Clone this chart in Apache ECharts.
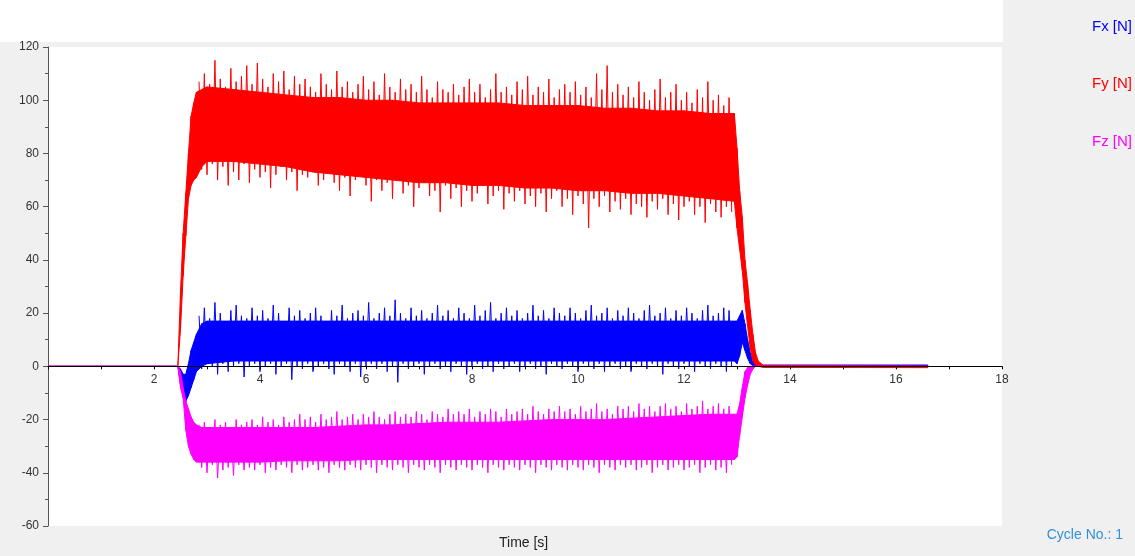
<!DOCTYPE html>
<html><head><meta charset="utf-8">
<script src="https://cdn.jsdelivr.net/npm/echarts/dist/echarts.min.js"></script>
<style>html,body{margin:0;padding:0;background:#f0f0f0;overflow:hidden;} #c{width:1135px;height:556px;}</style>
</head><body><div id="c"></div>
<script>
// ---- data ----
const seriesNames = ['Fx [N]', 'Fy [N]', 'Fz [N]'];
const xTicks = [2, 4, 6, 8, 10, 12, 14, 16, 18];
// envelope sample times (s)
const coreT = [0, 2.45, 2.5, 2.55, 2.6, 2.65, 2.7, 2.75, 2.8, 2.9, 3.0, 3.5, 4.0, 4.5, 5.0, 5.5, 6.0, 6.5, 7.0, 7.5, 8.0, 8.5, 9.0, 9.5, 10.0, 10.5, 11.0, 11.5, 12.0, 12.5, 12.95, 13.0, 13.05, 13.1, 13.15, 13.2, 13.25, 13.3, 13.35, 13.4, 13.5, 16.6];
// dense-band upper / lower envelopes
const fxTop = [0, 0, -1, -3, -3, 1, 6, 9, 12, 16, 17, 17, 17, 17, 17, 17, 17, 17, 17, 17, 17, 17, 17, 17, 17, 17, 17, 17, 17, 17, 17, 17, 19, 21, 16, 10, 5, 2, 1, 0.5, 0.5, 0.5];
const fxBot = [0, 0, -7, -10, -13, -11, -8, -5, -2, 0, 1, 2, 2, 2, 2, 2, 2, 2, 2, 2, 2, 2, 2, 2, 2, 2, 2, 2, 2, 2, 2, 1, 4, 9, 6, 3, 1, 0.3, 0, 0, 0, 0];
const fyTop = [0, 0, 28, 50, 65, 80, 94, 99, 103, 104, 105, 104, 103, 102, 101, 101, 100, 100, 99, 99, 99, 99, 98, 98, 98, 97, 97, 96, 96, 95, 95, 82, 66, 56, 40, 31, 21, 12, 5, 2, 0.3, 0];
const fyBot = [0, 0, 14, 34, 49, 63, 68, 70, 71, 75, 77, 77, 76, 75, 73, 72, 71, 70, 69, 69, 68, 68, 67, 67, 66, 66, 65, 65, 64, 63, 62, 52, 44, 36, 24, 15, 7, 2, 0.5, 0, -0.4, -0.5];
const fzTop = [0, 0, -2, -8, -13, -16, -19, -21, -22, -23, -23, -23, -23, -23, -23, -22.5, -22, -22, -21.5, -21, -21, -21, -20.5, -20, -20, -20, -19.5, -19, -18.5, -18, -18, -18, -14, -8, -2, -0.5, 0, 0, 0, 0, 0, 0];
const fzBot = [0, 0, -8, -12, -24, -30, -33, -35, -36, -36, -36, -36, -36, -35.5, -35.5, -35.5, -35, -35, -35, -35, -35, -35, -35, -35, -35, -35, -35, -35, -35, -35, -35, -34, -26, -19, -12, -7, -3, -1, 0, 0, 0, 0];
// alternating peak / trough samples of the noisy steady part, every 0.05 s from 2.85 s
const zigStart = 2.85, zigStep = 0.05;
const fxZig = [
19,-1,22,1,18,0,24,-3,20,1,17,-2,21,0,23,1,19,-4,18,0,
22,1,19,-2,21,0,18,1,23,-3,20,0,17,1,22,-5,19,0,21,-1,
18,1,20,-2,22,0,19,1,17,-1,21,-3,19,1,23,0,18,-2,20,1,
21,-4,19,0,24,1,18,-1,20,1,22,-2,19,0,25,-6,20,1,18,-1,
22,0,19,1,21,-3,18,0,20,1,23,-1,19,0,21,-2,18,1,22,0,
20,-3,18,0,23,1,19,-1,21,0,24,-2,18,1,20,-1,22,0,19,1,
21,-2,18,0,20,1,23,-1,19,0,21,-3,18,1,22,0,20,-1,19,1,
22,0,20,-2,18,1,21,0,23,-1,19,1,20,-2,22,0,18,1,21,-1,
19,0,22,-2,20,1,18,0,21,-1,23,1,19,0,20,-3,22,1,18,0,
21,-1,19,1,22,0,20,-2,18,1,21,0,23,-1,19,1,20,0,22,-2,
21,0];
const fyZig = [
107,74,110,72,106,76,115,70,108,75,105,68,112,73,107,70,109,76,113,69,
106,74,114,71,108,73,105,67,110,72,107,75,111,70,104,73,109,66,106,72,
108,71,105,74,103,68,110,70,106,73,104,69,111,66,105,71,107,64,103,70,
106,72,109,68,104,62,107,70,102,66,110,69,105,63,103,70,108,65,104,68,
106,60,103,67,109,69,104,64,101,66,107,58,104,68,103,63,106,67,102,60,
105,66,108,62,103,65,106,68,101,61,104,64,110,66,103,59,105,65,102,62,
107,66,104,61,109,64,102,60,105,65,103,58,108,63,101,66,104,60,106,63,
103,57,107,64,102,61,105,52,101,63,110,60,104,64,113,58,103,62,106,59,
102,63,105,57,101,61,107,60,103,56,100,62,104,59,108,63,101,57,103,61,
106,55,100,60,103,62,99,57,104,60,101,54,107,61,100,58,102,56,98,60,
101,58];
const fzZig = [
-22,-38,-21,-40,-23,-37,-20,-42,-22,-39,-21,-38,-23,-41,-20,-37,-22,-39,-21,-38,
-20,-39,-22,-37,-19,-40,-21,-38,-20,-39,-22,-37,-19,-38,-21,-40,-20,-37,-18,-39,
-20,-38,-19,-37,-21,-39,-18,-38,-20,-40,-19,-37,-17,-38,-20,-39,-19,-37,-18,-38,
-20,-39,-18,-37,-19,-38,-17,-40,-19,-37,-20,-38,-18,-39,-17,-37,-19,-38,-18,-40,
-19,-37,-17,-38,-18,-39,-20,-37,-17,-38,-18,-40,-19,-37,-16,-38,-18,-39,-17,-37,
-18,-38,-16,-39,-19,-37,-17,-38,-18,-40,-16,-37,-17,-38,-19,-39,-16,-37,-18,-38,
-17,-39,-16,-37,-18,-38,-15,-40,-17,-37,-18,-38,-16,-39,-17,-37,-15,-38,-17,-39,
-16,-37,-18,-38,-15,-39,-17,-37,-16,-38,-14,-40,-17,-37,-16,-38,-18,-39,-15,-37,
-16,-38,-15,-37,-17,-39,-14,-38,-16,-37,-15,-40,-17,-38,-15,-37,-14,-39,-16,-38,
-15,-37,-17,-39,-14,-38,-16,-37,-15,-40,-13,-38,-16,-37,-15,-39,-14,-38,-16,-40,
-15,-37];

const colors = ['#0000ff', '#ff0000', '#ff00ff'];

function buildSeries(key, color, top, bot, zig) {
  const r = v => Math.round(v * 100) / 100;
  const segs = [];
  for (let i = 0; i < coreT.length - 1; i++) {
    segs.push([coreT[i], bot[i], top[i], coreT[i + 1], bot[i + 1], top[i + 1]]);
  }
  return [
    { name: key + '_band', type: 'custom', silent: true, clip: true,
      encode: { x: [0, 3], y: [1, 2, 4, 5] },
      data: segs,
      renderItem: function (params, api) {
        const p = [
          api.coord([api.value(0), api.value(2)]),
          api.coord([api.value(3), api.value(5)]),
          api.coord([api.value(3), api.value(4)]),
          api.coord([api.value(0), api.value(1)])
        ];
        return { type: 'polygon', shape: { points: p },
          style: { fill: color, stroke: color, lineWidth: 1 } };
      } },
    { name: key + '_noise', type: 'line', symbol: 'none', silent: true,
      data: zig.map((v, i) => [r(zigStart + i * zigStep), v]), lineStyle: { color: color, width: 1 } }
  ];
}

const chart = echarts.init(document.getElementById('c'), null, { renderer: 'canvas' });
const font = '"Liberation Sans", Arial, sans-serif';
const gridTop = 47, gridBottom = 30, plotH = 556 - gridTop - gridBottom;
const zeroOffset = -(plotH * 60 / 180);
chart.setOption({
  animation: false,
  backgroundColor: '#f0f0f0',
  grid: { left: 48, right: 133, top: gridTop, bottom: gridBottom, show: true, backgroundColor: '#ffffff', borderWidth: 0 },
  xAxis: {
    type: 'value', min: 0, max: 18, interval: 1, z: 5, position: 'bottom', offset: zeroOffset,
    axisLine: { onZero: false, lineStyle: { color: '#000', width: 1 } },
    axisTick: { show: true, length: 3, lineStyle: { color: '#000' } },
    splitLine: { show: false },
    axisLabel: { margin: 7, color: '#333', fontSize: 12, fontFamily: font,
      formatter: v => (xTicks.indexOf(v) >= 0 ? String(v) : '') }
  },
  yAxis: {
    type: 'value', min: -60, max: 120, interval: 20,
    axisLine: { show: true, onZero: false, lineStyle: { color: '#555', width: 1 } },
    axisTick: { show: true, length: 5, lineStyle: { color: '#555' } },
    minorTick: { show: true, splitNumber: 2, length: 3, lineStyle: { color: '#555' } },
    splitLine: { show: false },
    axisLabel: { margin: 9, color: '#333', fontSize: 12, fontFamily: font }
  },
  graphic: [
    { type: 'rect', z: -10, shape: { x: 0, y: 0, width: 1003, height: 42 }, style: { fill: '#ffffff' } },
    { type: 'text', right: 3, top: 19, style: { text: seriesNames[0], fill: colors[0], font: '15px ' + font } },
    { type: 'text', right: 3, top: 76, style: { text: seriesNames[1], fill: colors[1], font: '15px ' + font } },
    { type: 'text', right: 3, top: 134, style: { text: seriesNames[2], fill: colors[2], font: '15px ' + font } },
    { type: 'text', right: 12, top: 528, style: { text: 'Cycle No.: 1', fill: '#3090dd', font: '14px ' + font } },
    { type: 'text', left: 499, top: 536, style: { text: 'Time [s]', fill: '#222', font: '14px ' + font } }
  ],
  series: [].concat(
    buildSeries('fx', colors[0], fxTop, fxBot, fxZig),
    buildSeries('fy', colors[1], fyTop, fyBot, fyZig),
    buildSeries('fz', colors[2], fzTop, fzBot, fzZig)
  )
});
</script></body></html>
